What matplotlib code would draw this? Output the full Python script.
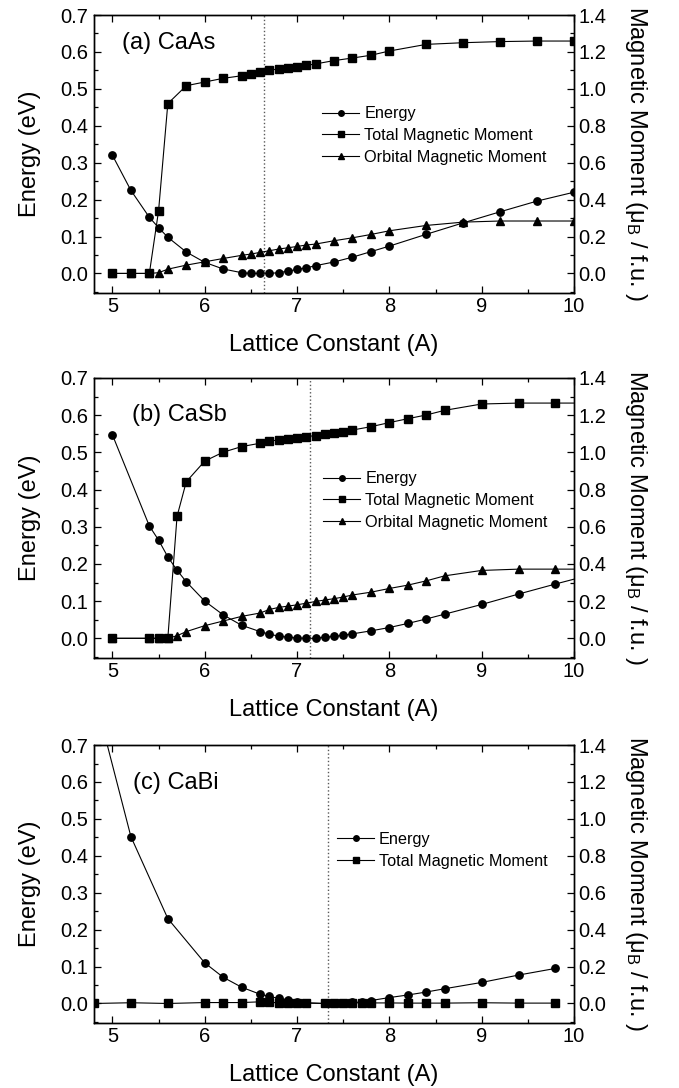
import matplotlib.pyplot as plt
from matplotlib.ticker import MultipleLocator

plt.rcParams['font.family'] = ['Liberation Sans', 'DejaVu Sans']
plt.rcParams['mathtext.fontset'] = 'custom'
plt.rcParams['mathtext.rm'] = 'Liberation Sans'
plt.rcParams['mathtext.it'] = 'Liberation Sans:italic'

# (a) CaAs
xa = [5.0, 5.2, 5.4, 5.5, 5.6, 5.8, 6.0, 6.2, 6.4, 6.5, 6.6, 6.7, 6.8, 6.9, 7.0,
      7.1, 7.2, 7.4, 7.6, 7.8, 8.0, 8.4, 8.8, 9.2, 9.6, 10.0]
energy_a = [0.320, 0.225, 0.152, 0.124, 0.098, 0.058, 0.030, 0.012, 0.002, 0.0, 0.0, 0.0,
            0.002, 0.006, 0.011, 0.015, 0.021, 0.031, 0.044, 0.059, 0.074, 0.106, 0.137,
            0.167, 0.196, 0.220]
total_a = [0.0, 0.0, 0.0, 0.34, 0.92, 1.017, 1.037, 1.057, 1.071, 1.082, 1.093, 1.102, 1.107,
           1.115, 1.12, 1.127, 1.135, 1.153, 1.167, 1.182, 1.205, 1.241, 1.25, 1.256, 1.259, 1.259]
orbital_a = [0.0, 0.0, 0.0, 0.004, 0.023, 0.045, 0.063, 0.081, 0.098, 0.105, 0.114, 0.123,
             0.132, 0.139, 0.146, 0.154, 0.159, 0.177, 0.193, 0.211, 0.231, 0.26, 0.278,
             0.284, 0.284, 0.284]
a0_a = 6.64

# (b) CaSb  (last point at 10.0 is where the line meets the frame, no marker)
xb = [5.0, 5.4, 5.5, 5.6, 5.7, 5.8, 6.0, 6.2, 6.4, 6.6, 6.7, 6.8, 6.9, 7.0, 7.1, 7.2, 7.3,
      7.4, 7.5, 7.6, 7.8, 8.0, 8.2, 8.4, 8.6, 9.0, 9.4, 9.8, 10.0]
energy_b = [0.547, 0.302, 0.264, 0.219, 0.183, 0.152, 0.100, 0.063, 0.035, 0.018, 0.011,
            0.006, 0.003, 0.001, 0.0, 0.0, 0.003, 0.005, 0.008, 0.012, 0.020, 0.029, 0.040,
            0.052, 0.065, 0.091, 0.119, 0.146, 0.159]
total_b = [0.0, 0.0, 0.0, 0.0, 0.656, 0.842, 0.953, 1.001, 1.031, 1.049, 1.060, 1.067, 1.074,
           1.079, 1.085, 1.090, 1.097, 1.104, 1.112, 1.120, 1.138, 1.160, 1.181, 1.201, 1.226,
           1.260, 1.265, 1.265, 1.265]
orbital_b = [0.0, 0.0, 0.0, 0.0, 0.014, 0.036, 0.068, 0.093, 0.118, 0.136, 0.155, 0.166, 0.173,
             0.180, 0.189, 0.198, 0.206, 0.213, 0.222, 0.233, 0.248, 0.268, 0.286, 0.309,
             0.336, 0.365, 0.372, 0.372, 0.372]
a0_b = 7.14

# (c) CaBi
xc = [4.8, 5.2, 5.6, 6.0, 6.2, 6.4, 6.6, 6.7, 6.8, 6.9, 7.0, 7.1, 7.3, 7.4, 7.5, 7.6, 7.7,
      7.8, 8.0, 8.2, 8.4, 8.6, 9.0, 9.4, 9.8]
energy_c = [0.84, 0.452, 0.230, 0.110, 0.071, 0.044, 0.025, 0.019, 0.014, 0.010, 0.005, 0.002,
            0.0, 0.0, 0.0, 0.003, 0.004, 0.008, 0.016, 0.023, 0.031, 0.040, 0.057, 0.077, 0.095]
total_c = [0.0, 0.004, 0.0, 0.005, 0.005, 0.005, 0.009, 0.006, 0.004, 0.004, 0.003, 0.002,
           0.0, 0.0, 0.001, 0.004, 0.003, 0.003, 0.003, 0.002, 0.002, 0.002, 0.004, 0.002, 0.002]
a0_c = 7.335

fig = plt.figure(figsize=(6.79, 10.88), dpi=100)

LW = 0.8
MS = 5.3


def panel(rect, x, energy, total, orbital, a0, label, txt_pos, leg_pos, last_marker=True):
    ax = fig.add_axes(rect)
    ax2 = ax.twinx()
    n = len(x)
    mk = None if last_marker else list(range(n - 1))

    h1, = ax.plot(x, energy, '-o', color='black', lw=LW, ms=MS, markevery=mk, label='Energy')
    h2, = ax2.plot(x, total, '-s', color='black', lw=LW, ms=MS, markevery=mk,
                   label='Total Magnetic Moment')
    handles = [h1, h2]
    if orbital is not None:
        h3, = ax2.plot(x, orbital, '-^', color='black', lw=LW, ms=MS + 0.5, markevery=mk,
                       label='Orbital Magnetic Moment')
        handles.append(h3)
    ax.axvline(a0, color='0.35', ls=':', lw=1.0)

    ax.set_xlim(4.8, 10)
    ax.set_ylim(-0.053, 0.7)
    ax2.set_ylim(-0.106, 1.4)
    ax.xaxis.set_major_locator(MultipleLocator(1))
    ax.xaxis.set_minor_locator(MultipleLocator(0.5))
    ax.yaxis.set_minor_locator(MultipleLocator(0.05))
    ax2.yaxis.set_minor_locator(MultipleLocator(0.1))
    ax.set_yticks([0.0, 0.1, 0.2, 0.3, 0.4, 0.5, 0.6, 0.7])
    ax.set_yticklabels(['0.0', '0.1', '0.2', '0.3', '0.4', '0.5', '0.6', '0.7'])
    ax2.set_yticks([0.0, 0.2, 0.4, 0.6, 0.8, 1.0, 1.2, 1.4])
    ax2.set_yticklabels(['0.0', '0.2', '0.4', '0.6', '0.8', '1.0', '1.2', '1.4'])

    ax.tick_params(which='both', direction='in', top=True, labelsize=14.5, width=0.9)
    ax.tick_params(axis='y', which='major', length=5, pad=4)
    ax.tick_params(axis='x', which='major', length=5, pad=3)
    ax.tick_params(which='minor', length=3)
    ax2.tick_params(which='both', direction='in', labelsize=14.5, width=0.9)
    ax2.tick_params(which='major', length=5, pad=3)
    ax2.tick_params(which='minor', length=3)
    for a in (ax, ax2):
        for s in a.spines.values():
            s.set_linewidth(1.0)

    ax.set_xlabel('Lattice Constant (A)', fontsize=17, labelpad=13)
    ax.set_ylabel('Energy (eV)', fontsize=17, labelpad=14)
    ax2.set_ylabel(r'Magnetic Moment (μ$_\mathrm{B}$ / f.u. )', fontsize=17,
                   rotation=270, labelpad=31)

    ax.text(txt_pos[0], txt_pos[1], label, transform=ax.transAxes, fontsize=17,
            va='center', ha='left')
    ax2.legend(handles=handles, loc='upper left', bbox_to_anchor=leg_pos, frameon=False,
               fontsize=11.7, borderpad=0, borderaxespad=0, handlelength=2.3,
               handletextpad=0.3, labelspacing=0.42, markerscale=0.75)
    return ax, ax2


panel([0.1384, 0.7307, 0.7069, 0.2555], xa, energy_a, total_a, orbital_a, a0_a,
      '(a) CaAs', (0.058, 0.899), (0.475, 0.672))
panel([0.1384, 0.3952, 0.7069, 0.2574], xb, energy_b, total_b, orbital_b, a0_b,
      '(b) CaSb', (0.079, 0.868), (0.477, 0.667), last_marker=False)
panel([0.1384, 0.0597, 0.7069, 0.2555], xc, energy_c, total_c, None, a0_c,
      '(c) CaBi', (0.081, 0.863), (0.506, 0.687))

fig.savefig('out.png', dpi=100)
